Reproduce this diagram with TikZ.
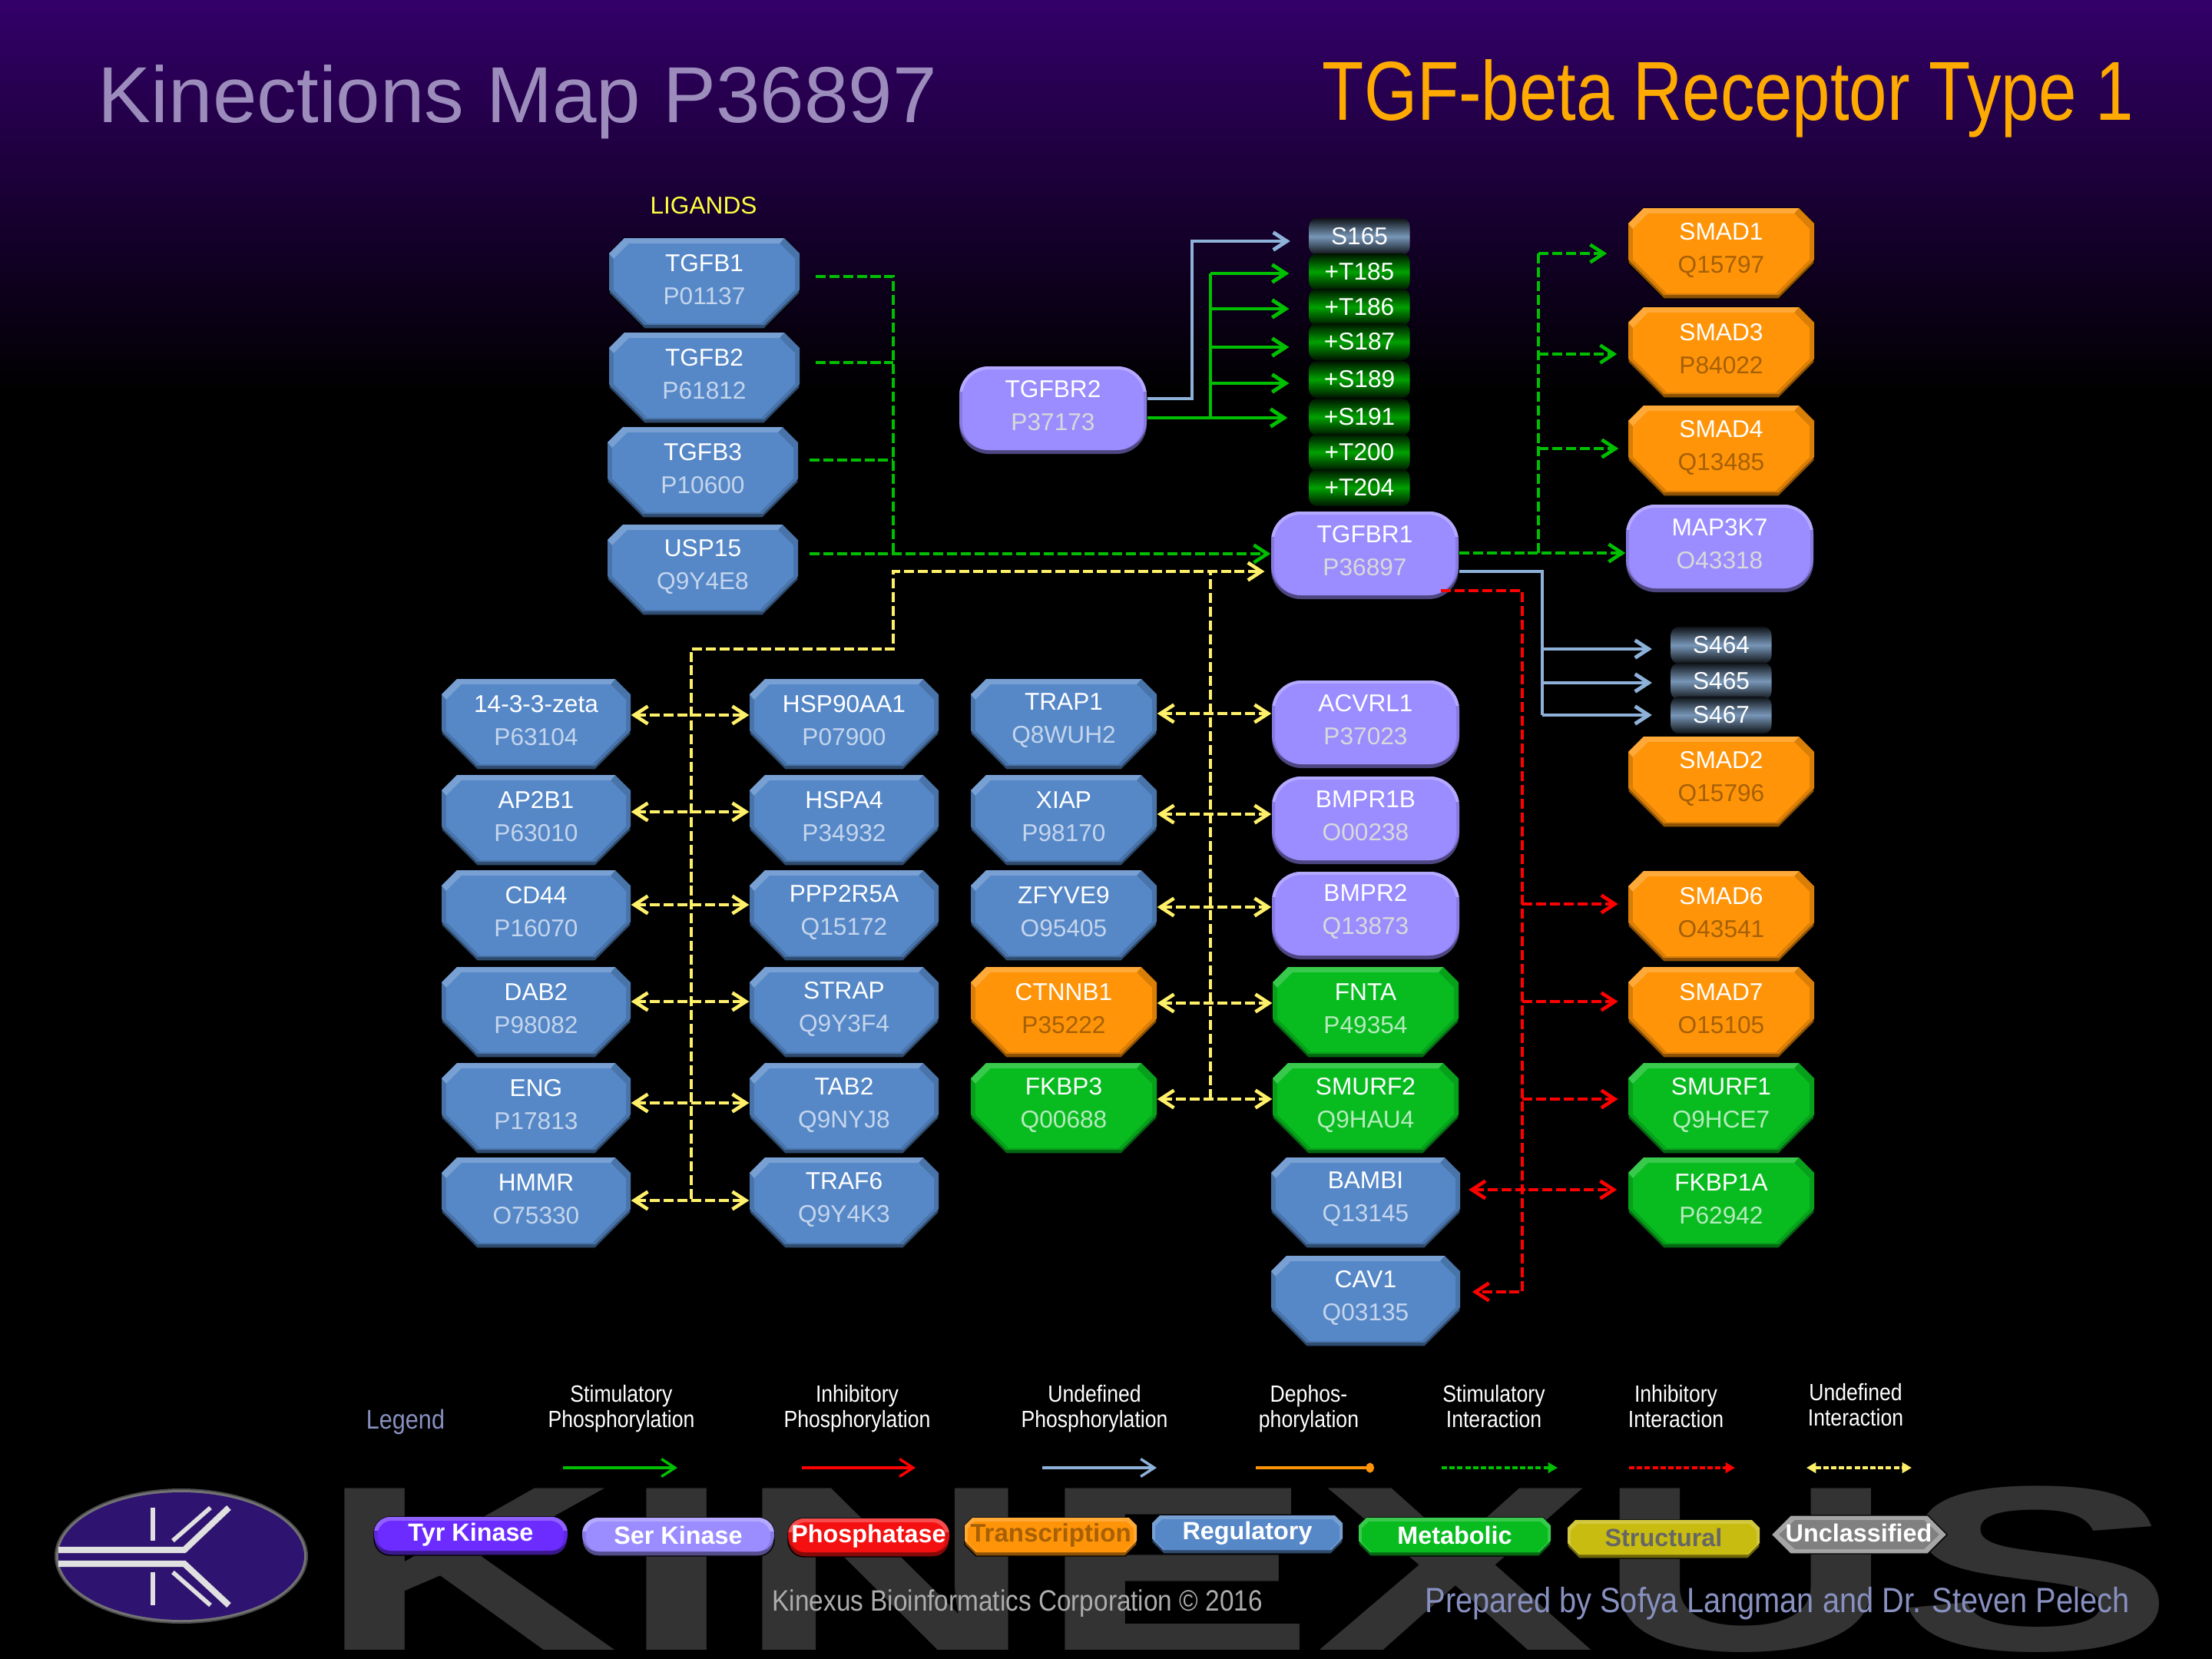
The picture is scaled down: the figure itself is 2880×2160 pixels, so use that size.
\documentclass[tikz,border=0pt]{standalone}
\usepackage{fontspec}
\setmainfont{Liberation Sans}
\newfontfamily\narrowfont[FakeStretch=0.87]{Liberation Sans}
\newfontfamily\titlefont[FakeStretch=0.815]{Liberation Sans}
\usetikzlibrary{arrows.meta}
\definecolor{kinblue}{HTML}{5688C8}
\definecolor{kinpurple}{HTML}{9B8CFF}
\definecolor{kinorange}{HTML}{FF9408}
\definecolor{kingreen}{HTML}{08BC20}
\definecolor{tyrviolet}{HTML}{6C2CFF}
\definecolor{kinred}{HTML}{F41010}
\definecolor{kinolive}{HTML}{C8BC10}
\definecolor{kingrey}{HTML}{808080}
\definecolor{linegreen}{HTML}{00BE00}
\definecolor{linered}{HTML}{FF0000}
\definecolor{lineblue}{HTML}{8DB1D8}
\definecolor{lineyellow}{HTML}{FFF06A}
\definecolor{lineorange}{HTML}{FF9408}
\definecolor{banner}{HTML}{330069}
\definecolor{maptitlecol}{HTML}{9C8CBC}
\definecolor{kinasetitlecol}{HTML}{FFAA00}
\definecolor{ligandcol}{HTML}{FFFF40}
\definecolor{footblue}{HTML}{8890C0}
\definecolor{logocol}{HTML}{2E1470}
\tikzset{
  genelabel/.style={align=center,inner sep=0pt,text=white,font=\fontsize{9}{12.2}\selectfont},
  sitebox/.style={minimum width=1.31cm,minimum height=.48cm,inner sep=0pt,rounded corners=3pt,text=white,font=\fontsize{9}{11}\selectfont},
  bluesite/.style={sitebox,top color=black!90!lineblue,bottom color=black!90!lineblue,middle color=lineblue!85!black},
  greensite/.style={sitebox,top color=black!90!linegreen,bottom color=black!90!linegreen,middle color=linegreen!85!black},
  legendlabel/.style={inner sep=0pt,font=\fontsize{9.2}{11}\selectfont\bfseries},
  caption/.style={align=center,inner sep=0pt,text=white,text depth=1.9pt,font=\narrowfont\fontsize{8.7}{9.4}\selectfont},
  barb/.tip={Straight Barb[length=5pt,width=6.5pt]},
  keytri/.tip={Triangle[length=3.5pt,width=3.8pt]},
  dashline/.style={line width=1.3pt,dash pattern=on 3.7pt off 1.4pt},
  stimphos/.style={draw=linegreen,line width=1.4pt,-barb},
  undefphos/.style={draw=lineblue,line width=1.4pt,-barb},
  stimline/.style={draw=linegreen,dashline},
  stimint/.style={stimline,-barb},
  inhibint/.style={draw=linered,dashline,-barb},
  undefline/.style={draw=lineyellow,dashline},
  undefint/.style={undefline,barb-barb},
  keystimphos/.style={draw=linegreen,line width=1pt,-barb},
  keyinhibphos/.style={draw=linered,line width=1pt,-barb},
  keyundefphos/.style={draw=lineblue,line width=1pt,-barb},
  keydephos/.style={draw=lineorange,line width=1pt,-{Ellipse[length=3pt,width=3.6pt]}},
  keystimint/.style={draw=linegreen,line width=1pt,dash pattern=on 2pt off .9pt,-keytri},
  keyinhibint/.style={draw=linered,line width=1pt,dash pattern=on 2pt off .9pt,-keytri},
  keyundefint/.style={draw=lineyellow,line width=1pt,dash pattern=on 2pt off .9pt,keytri-keytri},
}
\newcommand{\octshape}[5]{({-(#1)+#4},{-(#2)}) -- ({(#1)-#4},{-(#2)}) -- ({#1},{-(#2)+#4}) -- ({#1},{(#3)-#5}) -- ({(#1)-#5},{#3}) -- ({-(#1)+#5},{#3}) -- ({-(#1)},{(#3)-#5}) -- ({-(#1)},{-(#2)+#4}) -- cycle}
\newcommand{\octbox}[7][121]{\begin{scope}[shift={(#4,#5)}]
  \path[fill=#6!55!black,draw=black,line width=.4pt] \octshape{#1}{59}{59}{20}{46};
  \fill[#6!85!black] \octshape{#1}{59}{54}{20}{46};
  \fill[#6!80!white] ({-(#1)},-39) -- ({-(#1)+20},-59) -- ({(#1)-20},-59) -- ({(#1)-26},-52) -- ({-(#1)+26},-52) -- ({-(#1)+6},-32) -- cycle;
  \fill[#6] \octshape{#1-6}{52}{52}{20}{44};
  \node[genelabel,minimum width={2*#1*0.01cm}] (#2) at (0,-4.5) {#2\\\textcolor{#7}{#3}};
\end{scope}}
\newcommand{\roundbox}[4]{\begin{scope}[shift={(#3,#4)}]
  \fill[kinpurple!50!black,rounded corners=11pt] (-122,-57) rectangle (122,57);
  \fill[kinpurple!88!black,rounded corners=11pt] (-122,-57) rectangle (122,52);
  \begin{scope}
    \clip (-122,-57) rectangle (122,-25);
    \fill[kinpurple!75!white,rounded corners=11pt] (-122,-57) rectangle (122,52);
  \end{scope}
  \fill[kinpurple,rounded corners=10pt] (-118,-53) rectangle (118,52);
  \node[genelabel,minimum width=2.44cm] (#1) at (0,-5.5) {#1\\\textcolor{black!15!white}{#2}};
\end{scope}}
\newcommand{\legendoct}[7]{\begin{scope}[shift={(#3,#4)}]
  \path[fill=#6!55!black,draw=black,line width=.4pt] \octshape{#5}{25}{25}{10}{15};
  \fill[#6!80!white] \octshape{#5}{25}{20}{10}{15};
  \fill[#6] \octshape{#5-4}{20}{20}{9}{13};
  \node[legendlabel,text=#7] (#1) at (0,-2) {#2};
\end{scope}}
\newcommand{\legendround}[6]{\begin{scope}[shift={(#3,#4)}]
  \path[fill=#6!55!black,draw=black,line width=.4pt,rounded corners=6pt] (-#5,-25) rectangle (#5,25);
  \fill[#6!88!black,rounded corners=6pt] (-#5,-25) rectangle (#5,19);
  \begin{scope}
    \clip (-#5,-25) rectangle (#5,-8);
    \fill[#6!75!white,rounded corners=6pt] (-#5,-25) rectangle (#5,19);
  \end{scope}
  \fill[#6,rounded corners=5pt] ({-#5+5},-20) rectangle ({#5-5},19);
  \node[legendlabel,text=white] (#1) at (0,-2) {#2};
\end{scope}}
\begin{document}
\begin{tikzpicture}[x=0.01cm,y=-0.01cm]
\useasboundingbox (0,0) rectangle (2880,2160);
\fill[black] (0,0) rectangle (2880,2160);
\fill[top color=banner,bottom color=black] (0,0) rectangle (2880,510);
\node[anchor=base west,inner sep=0pt,xscale=1.78,transform shape,text=black!80,font=\fontsize{87}{87}\selectfont\bfseries] (watermark) at (411,2148) {KINEXUS};
\node[anchor=base west,inner sep=0pt,font=\fontsize{29.4}{32}\selectfont,text=maptitlecol] (maptitle) at (127,159) {Kinections Map P36897};
\node[anchor=base west,inner sep=0pt,font=\titlefont\fontsize{31}{34}\selectfont,text=kinasetitlecol] (kinasetitle) at (1721,156) {TGF-beta Receptor Type 1};
\node[inner sep=0pt,text=ligandcol,font=\fontsize{9}{11}\selectfont] (ligands) at (916,268) {LIGANDS};
\foreach \gene/\acc/\cx/\cy in {TGFB1/P01137/917/369,TGFB2/P61812/917/492,TGFB3/P10600/915/615,USP15/Q9Y4E8/915/742}
  \octbox[124]{\gene}{\acc}{\cx}{\cy}{kinblue}{white!65!kinblue};
\foreach \gene/\acc/\cx/\cy in {14-3-3-zeta/P63104/698/943,AP2B1/P63010/698/1068,CD44/P16070/698/1192,DAB2/P98082/698/1318,ENG/P17813/698/1443,HMMR/O75330/698/1566,HSP90AA1/P07900/1099/943,HSPA4/P34932/1099/1068,PPP2R5A/Q15172/1099/1192,STRAP/Q9Y3F4/1099/1318,TAB2/Q9NYJ8/1099/1443,TRAF6/Q9Y4K3/1099/1566,BAMBI/Q13145/1778/1566,CAV1/Q03135/1778/1694}
  \octbox[123]{\gene}{\acc}{\cx}{\cy}{kinblue}{white!65!kinblue};
\foreach \gene/\acc/\cx/\cy in {TRAP1/Q8WUH2/1385/943,XIAP/P98170/1385/1068,ZFYVE9/O95405/1385/1192}
  \octbox{\gene}{\acc}{\cx}{\cy}{kinblue}{white!65!kinblue};
\foreach \gene/\acc/\cx/\cy in {CTNNB1/P35222/1385/1318,SMAD1/Q15797/2241/330,SMAD3/P84022/2241/459,SMAD4/Q13485/2241/587,SMAD2/Q15796/2241/1018,SMAD6/O43541/2241/1193,SMAD7/O15105/2241/1318}
  \octbox{\gene}{\acc}{\cx}{\cy}{kinorange}{black!35!kinorange};
\foreach \gene/\acc/\cx/\cy in {FKBP3/Q00688/1385/1443,FNTA/P49354/1778/1318,SMURF2/Q9HAU4/1778/1443,SMURF1/Q9HCE7/2241/1443,FKBP1A/P62942/2241/1566}
  \octbox{\gene}{\acc}{\cx}{\cy}{kingreen}{white!70!kingreen};
\foreach \gene/\acc/\cx/\cy in {TGFBR2/P37173/1371/534,TGFBR1/P36897/1777/723,MAP3K7/O43318/2239/714,ACVRL1/P37023/1778/943,BMPR1B/O00238/1778/1068,BMPR2/Q13873/1778/1192}
  \roundbox{\gene}{\acc}{\cx}{\cy};
\node[bluesite] (S165) at (1770,308) {S165};
\foreach \site/\cy in {T185/354,T186/400,S187/445,S189/494,S191/543,T200/589,T204/635}
  \node[greensite] (\site) at (1770,\cy) {+\site};
\foreach \site/\cy in {S464/840,S465/887,S467/931}
  \node[bluesite] (\site) at (2241,\cy) {\site};
\coordinate (bluebus) at (1552,314);
\coordinate (greenbus) at (1576,544);
\draw[undefphos,shorten >=6.8pt] (TGFBR2.east |- 0,519) -| (bluebus) -- (S165.west |- bluebus);
\draw[stimphos,shorten >=7.8pt] (TGFBR2.east |- greenbus) -- (S191.west |- greenbus);
\draw[draw=linegreen,line width=1.4pt] (greenbus) -- (greenbus |- 0,356);
\foreach \site/\yy in {T185/356,T186/402,S187/452,S189/499}
  \draw[stimphos,shorten >=7.2pt] (greenbus |- 0,\yy) -- (\site.west |- 0,\yy);
\coordinate (ligbus) at (1163,721);
\draw[stimline,shorten <=5.7pt] (TGFB1.east |- 0,360) -| (ligbus);
\draw[stimline,shorten <=5.7pt] (TGFB2.east |- 0,472) -- (ligbus |- 0,472);
\draw[stimline,shorten <=4pt] (TGFB3.east |- 0,599) -- (ligbus |- 0,599);
\draw[stimint,shorten <=4pt] (USP15.east |- ligbus) -- (TGFBR1.west |- ligbus);
\coordinate (leftbus) at (900,1561);
\coordinate (lefttop) at (900,845);
\coordinate (yellowbus) at (1163,845);
\coordinate (rightbus) at (1576,1431);
\draw[undefline,-barb,shorten >=2.2pt] (leftbus) -- (lefttop) -- (yellowbus) |- (TGFBR1.west |- 0,744);
\draw[undefline] (rightbus) -- (rightbus |- 0,744);
\foreach \genea/\geneb/\yy in {14-3-3-zeta/HSP90AA1/931,AP2B1/HSPA4/1057,CD44/PPP2R5A/1178,DAB2/STRAP/1304,ENG/TAB2/1436,HMMR/TRAF6/1563,TRAP1/ACVRL1/929,XIAP/BMPR1B/1060,ZFYVE9/BMPR2/1181,CTNNB1/FNTA/1306,FKBP3/SMURF2/1431}
  \draw[undefint] (\genea.east |- 0,\yy) -- (\geneb.west |- 0,\yy);
\coordinate (stimbus) at (2003,720);
\draw[stimint] (TGFBR1.east |- stimbus) -- (MAP3K7.west |- stimbus);
\draw[stimline] (stimbus) -- (stimbus |- 0,330);
\foreach \gene/\yy/\gap in {SMAD1/330/7.7pt,SMAD3/461/4pt,SMAD4/584/3.4pt}
  \draw[stimint,shorten >=\gap] (stimbus |- 0,\yy) -- (\gene.west |- 0,\yy);
\coordinate (sitebus) at (2008,744);
\draw[draw=lineblue,line width=1.4pt] (TGFBR1.east |- sitebus) -- (sitebus) -- (sitebus |- 0,931);
\foreach \site/\yy in {S464/845,S465/889,S467/931}
  \draw[undefphos,shorten >=6.8pt] (sitebus |- 0,\yy) -- (\site.west |- 0,\yy);
\coordinate (redbus) at (1982,1682);
\draw[inhibint,shorten >=4.3pt,shorten <=-1pt] ([shift={(-20,0)}]TGFBR1.east |- 0,769) -| (redbus) -- (CAV1.east |- redbus);
\foreach \gene/\yy in {SMAD6/1177,SMAD7/1304,SMURF1/1431}
  \draw[inhibint,shorten >=3.6pt] (redbus |- 0,\yy) -- (\gene.west |- 0,\yy);
\draw[inhibint,barb-barb,shorten >=4pt,shorten <=3pt] (BAMBI.east |- 0,1549) -- (FKBP1A.west |- 0,1549);
\node[inner sep=0pt,text=footblue,font=\narrowfont\fontsize{10}{12}\selectfont] (legendtitle) at (528,1851) {Legend};
\foreach \nm/\cx/\cy/\txt in {capa/809/1834/Stimulatory\\Phosphorylation,capb/1116/1834/Inhibitory\\Phosphorylation,capc/1425/1834/Undefined\\Phosphorylation,capd/1704/1834/Dephos-\\phorylation,cape/1945/1834/Stimulatory\\Interaction,capf/2182/1834/Inhibitory\\Interaction,capg/2416/1832/Undefined\\Interaction}
  \node[caption] (\nm) at (\cx,\cy) {\txt};
\foreach \nm/\xa/\xb/\keystyle in {keya/733/882/keystimphos,keyb/1044/1192/keyinhibphos,keyc/1357/1506/keyundefphos,keyd/1635/1789/keydephos,keye/1877/2028/keystimint,keyf/2121/2259/keyinhibint,keyg/2352/2489/keyundefint}{
  \coordinate (\nm start) at (\xa,1911);
  \coordinate (\nm end) at (\xb,1911);
  \draw[\keystyle] (\nm start) -- (\nm end);
}
\fill[black!70!white] (236,2026) ellipse (165 and 88);
\fill[black!55!white] (236,2026) ellipse (163 and 86);
\fill[logocol] (236,2026) ellipse (160 and 83);
\draw[black!12,line width=2.3pt] (76,2018) -- (240,2018) -- (298,1963);
\draw[black!12,line width=2.3pt] (76,2036) -- (240,2036) -- (298,2090);
\draw[black!12,line width=1.6pt] (225,2006) -- (274,1963);
\draw[black!12,line width=1.6pt] (225,2047) -- (274,2090);
\draw[black!12,line width=1.6pt] (199,1963) -- (199,2006);
\draw[black!12,line width=1.6pt] (199,2047) -- (199,2090);
\legendround{tyrkinase}{Tyr Kinase}{613}{2000}{126}{tyrviolet}
\legendround{serkinase}{Ser Kinase}{883}{2001}{125}{kinpurple}
\legendround{phosphatase}{Phosphatase}{1131}{2002}{105}{kinred}
\legendoct{transcription}{\fontsize{9.4}{11}\selectfont Transcription\hspace{4pt}}{1368}{2001}{112}{kinorange}{black!35!kinorange}
\legendoct{regulatory}{Regulatory}{1624}{1998}{124}{kinblue}{white}
\legendoct{metabolic}{Metabolic}{1894}{2001}{125}{kingreen}{white}
\legendoct{structural}{Structural}{2166}{2004}{125}{kinolive}{black!60}
\path[fill=black!35,draw=black,line width=.4pt] (2331,1973) -- (2510,1973) -- (2535,1998) -- (2510,2023) -- (2331,2023) -- (2306,1998) -- cycle;
\fill[kingrey] (2337,1979) -- (2505,1979) -- (2525,1998) -- (2505,2017) -- (2337,2017) -- (2316,1998) -- cycle;
\node[legendlabel,text=white] (unclassified) at (2420,1996) {Unclassified};
\node[anchor=base west,inner sep=0pt,text=black!32,font=\narrowfont\fontsize{10.9}{12}\selectfont] (kinexusline) at (1005,2097) {Kinexus Bioinformatics Corporation © 2016};
\node[anchor=base west,inner sep=0pt,text=footblue,font=\narrowfont\fontsize{13}{15}\selectfont] (preparedline) at (1855,2099) {Prepared by Sofya Langman and Dr. Steven Pelech};
\end{tikzpicture}
\end{document}
